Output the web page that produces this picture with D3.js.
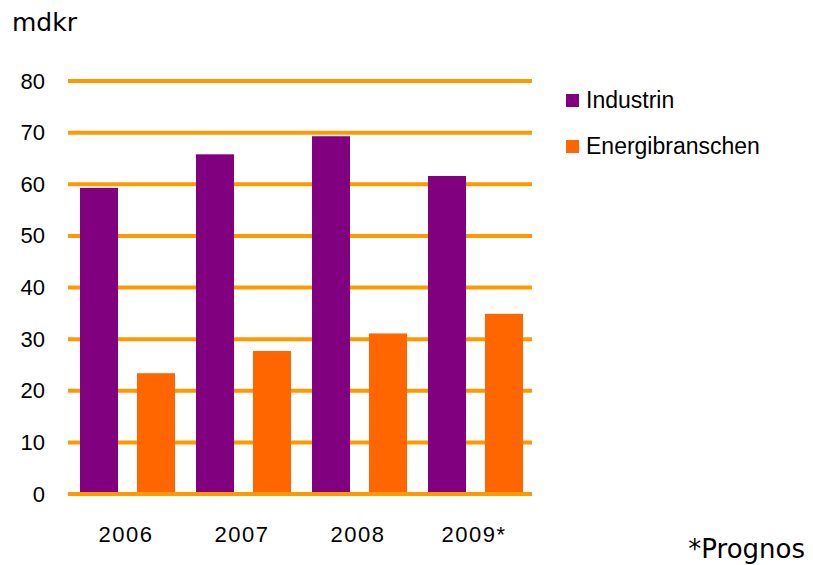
<!DOCTYPE html>
<html>
<head>
<meta charset="utf-8">
<script src="https://cdn.jsdelivr.net/npm/d3@7"></script>
<style>
  body { margin: 0; background: #fff; }
  text { font-family: "Liberation Sans", Arial, sans-serif; fill: #000; }
</style>
</head>
<body>
<div id="chart"></div>
<script>
// chart data
var years = ['2006', '2007', '2008', '2009*'];
var seriesNames = ['Industrin', 'Energibranschen'];
var industrin = [59.3, 65.8, 69.3, 61.6];
var energi = [23.4, 27.7, 31.1, 34.9];
var yTicks = [0, 10, 20, 30, 40, 50, 60, 70, 80];

var colors = ['#800080', '#ff6600'];

var svgWidth = 813;
var svgHeight = 565;

var margin = { top: 81, left: 68, right: 281, bottom: 71 };
var chartWidth = svgWidth - margin.left - margin.right;
var chartHeight = svgHeight - margin.top - margin.bottom;

var svg = d3.select('#chart')
  .append('svg')
  .attr('width', svgWidth)
  .attr('height', svgHeight);

var chartGroup = svg.append('g')
  .attr('transform', `translate(${margin.left}, ${margin.top})`);

// scales
var x0 = d3.scaleBand()
  .domain(years)
  .range([0, chartWidth])
  .paddingInner(0)
  .paddingOuter(0);

var x1 = d3.scaleBand()
  .domain(seriesNames)
  .range([12, x0.bandwidth() - 9])
  .paddingInner(1 / 3);

var y = d3.scaleLinear()
  .domain([0, 80])
  .range([chartHeight, 0]);

// gridlines
chartGroup.selectAll('.grid')
  .data(yTicks)
  .enter()
  .append('line')
  .attr('x1', 0)
  .attr('x2', chartWidth)
  .attr('y1', d => y(d))
  .attr('y2', d => y(d))
  .attr('stroke', '#ff9900')
  .attr('stroke-width', 4);

// y axis labels
var leftAxis = d3.axisLeft(y).tickValues(yTicks).tickSize(0).tickPadding(23);
var yAxis = chartGroup.append('g').call(leftAxis);
yAxis.select('.domain').remove();
yAxis.selectAll('text')
  .style('font-family', '"Liberation Sans", Arial, sans-serif')
  .style('font-size', '22px')
  .attr('fill', '#000');

// bars
var rows = years.map((yr, i) => ({ year: yr, values: [industrin[i], energi[i]] }));

var groups = chartGroup.selectAll('.year')
  .data(rows)
  .enter()
  .append('g')
  .attr('transform', d => `translate(${x0(d.year)}, 0)`);

groups.selectAll('rect')
  .data(d => d.values.map((v, i) => ({ name: seriesNames[i], value: v, i: i })))
  .enter()
  .append('rect')
  .attr('x', d => x1(d.name))
  .attr('width', x1.bandwidth())
  .attr('y', d => y(d.value))
  .attr('height', d => y(0) - y(d.value) - 2)
  .attr('fill', d => colors[d.i]);

// x axis labels
var bottomAxis = d3.axisBottom(x0).tickSize(0).tickPadding(32);
var xAxis = chartGroup.append('g')
  .attr('transform', `translate(0, ${chartHeight})`)
  .call(bottomAxis);
xAxis.select('.domain').remove();
xAxis.selectAll('text')
  .style('font-family', '"Liberation Sans", Arial, sans-serif')
  .style('font-size', '22px')
  .style('letter-spacing', '1.5px')
  .attr('fill', '#000');

// unit label
svg.append('text')
  .attr('x', 12)
  .attr('y', 31)
  .style('font-family', '"DejaVu Sans", Verdana, sans-serif')
  .style('font-size', '25px')
  .text('mdkr');

// legend
var legend = svg.selectAll('.legend')
  .data(seriesNames)
  .enter()
  .append('g')
  .attr('transform', (d, i) => `translate(566, ${94 + i * 46})`);

legend.append('rect')
  .attr('width', 13)
  .attr('height', 13)
  .attr('fill', (d, i) => colors[i]);

legend.append('text')
  .attr('x', 20)
  .attr('y', 14)
  .style('font-size', '23px')
  .text(d => d);

// footnote
svg.append('text')
  .attr('x', 805)
  .attr('y', 558)
  .attr('text-anchor', 'end')
  .style('font-family', '"DejaVu Sans", Verdana, sans-serif')
  .style('font-size', '26px')
  .text('*Prognos');
</script>
</body>
</html>
